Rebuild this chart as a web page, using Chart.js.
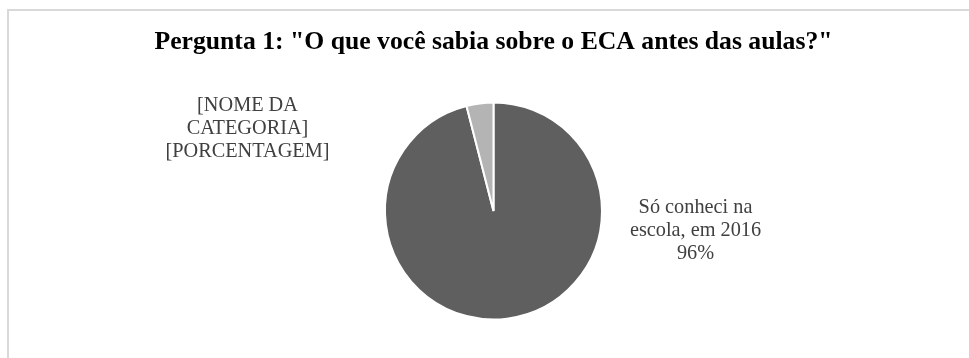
<!DOCTYPE html>
<html>
<head>
<meta charset="utf-8">
<script src="https://cdn.jsdelivr.net/npm/chart.js@4"></script>
<style>
  body { margin: 0; background: #fff; }
  #wrap { position: relative; width: 969px; height: 358px; overflow: hidden; }
  #frame {
    position: absolute; left: 7px; top: 9px; width: 962px; height: 349px;
    border-left: 2px solid #d9d9d9; border-top: 2px solid #d9d9d9;
  }
  #chart { position: absolute; left: 0; top: 0; }
</style>
</head>
<body>
<div id="wrap">
  <div id="frame"></div>
  <canvas id="chart" width="969" height="358"></canvas>
</div>
<script>
// Chart data
const chartTitle = 'Pergunta 1: "O que você sabia sobre o ECA antes das aulas?"';
const categories = ['Só conheci na escola, em 2016', '[NOME DA CATEGORIA]'];
const values = [96, 4];
const sliceColors = ['#5f5f5f', '#b4b4b4'];

// Data label text, line by line, as the source chart shows them
const labelLines = [
    ['Só conheci na', 'escola, em 2016'],
    ['[NOME DA', 'CATEGORIA]']
];
const percentText = ['96%', '[PORCENTAGEM]'];

// Where each data label sits, relative to the pie centre
const labelOffsets = [
    { x: 202, y: 20 },
    { x: -246, y: -82 }
];

// Draws the data labels next to the pie
const pieLabels = {
    id: 'pieLabels',
    afterDatasetsDraw(chart) {
        const ctx = chart.ctx;
        const arcs = chart.getDatasetMeta(0).data;
        ctx.save();
        ctx.font = '20.3px "Liberation Serif", "Times New Roman", serif';
        ctx.fillStyle = '#404040';
        ctx.textAlign = 'center';
        ctx.textBaseline = 'middle';
        arcs.forEach((arc, i) => {
            const lines = labelLines[i].concat([percentText[i]]);
            const cx = arc.x + labelOffsets[i].x;
            const cy = arc.y + labelOffsets[i].y;
            const lineH = 23;
            lines.forEach((line, j) => {
                ctx.fillText(line, cx, cy + (j - (lines.length - 1) / 2) * lineH);
            });
        });
        ctx.restore();
    }
};

new Chart(document.getElementById('chart'), {
    type: 'pie',
    data: {
        labels: categories,
        datasets: [{
            data: values,
            backgroundColor: sliceColors,
            borderColor: '#ffffff',
            borderWidth: 2,
            hoverOffset: 0,
            offset: 0
        }]
    },
    options: {
        responsive: false,
        animation: false,
        devicePixelRatio: 1,
        layout: {
            padding: { left: 18, right: 0, top: 0, bottom: 37.5 }
        },
        plugins: {
            legend: { display: false },
            tooltip: { enabled: false },
            title: {
                display: true,
                text: chartTitle,
                color: '#000000',
                font: { family: '"Liberation Serif", "Times New Roman", serif', size: 25.7, weight: 'bold', lineHeight: 1.2 },
                padding: { top: 26.6, bottom: 44.1 }
            }
        }
    },
    plugins: [pieLabels]
});
</script>
</body>
</html>
